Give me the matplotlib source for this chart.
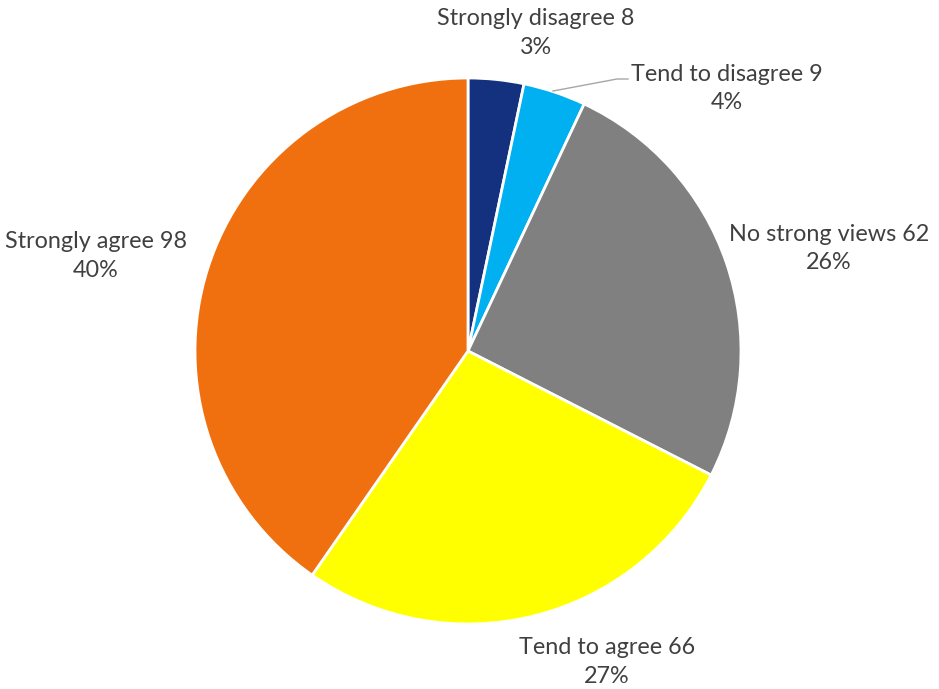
import matplotlib
matplotlib.use("Agg")
import matplotlib.pyplot as plt

# data
labels = ["Strongly disagree", "Tend to disagree", "No strong views", "Tend to agree", "Strongly agree"]
counts = [8, 9, 62, 66, 98]
pcts = ["3%", "4%", "26%", "27%", "40%"]
colors = ["#14317F", "#00B0F0", "#808080", "#FFFF00", "#F07010"]

# label centres (in pie radius units)
label_pos = [(0.249, 1.165), (0.949, 0.963), (1.322, 0.374), (0.509, -1.139), (-1.363, 0.348)]

W, H = 939, 689
fig = plt.figure(figsize=(W / 100, H / 100), dpi=100)
cx, cy, r = 468, 351, 273
ax = fig.add_axes([(cx - r) / W, (H - cy - r) / H, 2 * r / W, 2 * r / H])

ax.pie(counts, colors=colors, startangle=90, counterclock=False, radius=1,
       wedgeprops=dict(edgecolor="white", linewidth=2.0))
ax.set_xlim(-1, 1)
ax.set_ylim(-1, 1)
ax.set_aspect("equal")
ax.axis("off")

for lab, n, p, (x, y) in zip(labels, counts, pcts, label_pos):
    ax.text(x, y, f"{lab} {n}\n{p}", ha="center", va="center", fontsize=16.8,
            family="Lato", color="#404040", linespacing=1.42, clip_on=False)

# leader line for "Tend to disagree"
def px(x, y):
    return (x - cx) / r, (cy - y) / r

pts = [px(553, 91), px(617, 79), px(628, 79)]
ax.plot([p[0] for p in pts], [p[1] for p in pts], color="#A6A6A6", lw=1.0, clip_on=False)

fig.savefig("out.png", dpi=100, facecolor="white")
